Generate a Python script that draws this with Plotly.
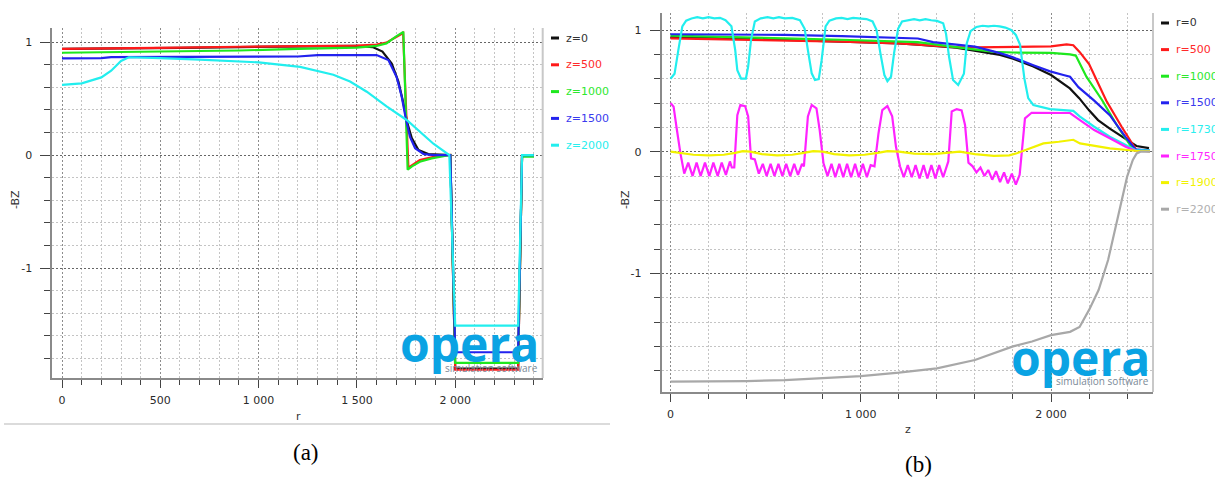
import plotly.graph_objects as go

# ---------------- Panel (a): -BZ vs r ----------------
A_NAMES = ["z=0", "z=500", "z=1000", "z=1500", "z=2000"]
A_COLORS = ["#111111", "#ff1a1a", "#1ee81e", "#2222ee", "#22eeee"]
A_TEXT_COLORS = ["#333333", "#ff2a2a", "#2ee82e", "#3a3aee", "#2aeeee"]

R_Z0 = [0, 300, 600, 900, 1200, 1500, 1580, 1630, 1677, 1711, 1736, 1757, 1779, 1813, 1863, 1930, 1975, 2000, 2320, 2340, 2400]
B_Z0 = [0.94, 0.942, 0.948, 0.955, 0.96, 0.965, 0.955, 0.915, 0.81, 0.65, 0.46, 0.28, 0.15, 0.044, 0.008, 0.0, 0.0, -1.89, -1.89, 0.0, 0.0]

R_Z500 = [0, 300, 600, 900, 1200, 1500, 1600, 1650, 1700, 1735, 1762, 1772, 1820, 1890, 1975, 2000, 2320, 2340, 2400]
B_Z500 = [0.94, 0.942, 0.95, 0.958, 0.963, 0.968, 0.978, 0.995, 1.045, 1.08, -0.12, -0.10, -0.044, -0.015, 0.0, -1.90, -1.90, 0.0, 0.0]

R_Z1000 = [0, 300, 600, 900, 1200, 1500, 1600, 1650, 1700, 1736, 1758, 1780, 1820, 1880, 1940, 1975, 2000, 2320, 2340, 2400]
B_Z1000 = [0.905, 0.91, 0.915, 0.925, 0.94, 0.95, 0.965, 0.988, 1.05, 1.09, -0.13, -0.10, -0.06, -0.03, -0.01, 0.0, -1.84, -1.84, -0.015, -0.015]

R_Z1500 = [0, 200, 250, 1000, 1200, 1300, 1600, 1660, 1702, 1728, 1750, 1770, 1796, 1838, 1889, 1975, 2000, 2320, 2340, 2400]
B_Z1500 = [0.856, 0.858, 0.866, 0.868, 0.872, 0.884, 0.885, 0.84, 0.69, 0.516, 0.31, 0.16, 0.06, 0.009, 0.0, 0.0, -1.745, -1.745, 0.0, 0.0]

R_Z2000 = [0, 100, 200, 250, 300, 340, 500, 700, 1000, 1211, 1380, 1465, 1550, 1651, 1753, 1800, 1889, 1970, 2000, 2320, 2340, 2400]
B_Z2000 = [0.62, 0.634, 0.687, 0.746, 0.832, 0.865, 0.857, 0.845, 0.82, 0.78, 0.71, 0.65, 0.56, 0.43, 0.31, 0.24, 0.10, 0.0, -1.51, -1.51, 0.0, 0.0]

A_R = [R_Z0, R_Z500, R_Z1000, R_Z1500, R_Z2000]
A_B = [B_Z0, B_Z500, B_Z1000, B_Z1500, B_Z2000]

A_XTICKS = [0, 500, 1000, 1500, 2000]
A_XTICKLABELS = ["0", "500", "1 000", "1 500", "2 000"]

# ---------------- Panel (b): -BZ vs z ----------------
B_NAMES = ["r=0", "r=500", "r=1000", "r=1500", "r=1730", "r=1750", "r=1900", "r=2200"]
B_COLORS = ["#111111", "#ff1a1a", "#1ee81e", "#2222ee", "#22eeee", "#ff22ff", "#f2f200", "#a8a8a8"]
B_TEXT_COLORS = ["#333333", "#ff2a2a", "#2ee82e", "#3a3aee", "#2aeeee", "#ff2aff", "#f2f200", "#b0b0b0"]

Z_R0 = [0, 300, 600, 900, 1200, 1300, 1500, 1732, 1800, 1907, 2000, 2099, 2148, 2200, 2247, 2309, 2400, 2449, 2515]
B_R0 = [0.943, 0.935, 0.918, 0.905, 0.89, 0.88, 0.855, 0.795, 0.765, 0.70, 0.63, 0.52, 0.44, 0.34, 0.26, 0.19, 0.096, 0.047, 0.03]

Z_R500 = [0, 300, 600, 900, 1200, 1300, 1500, 1600, 1800, 2000, 2082, 2117, 2150, 2200, 2290, 2371, 2450, 2520]
B_R500 = [0.932, 0.925, 0.915, 0.905, 0.89, 0.88, 0.86, 0.858, 0.862, 0.865, 0.882, 0.875, 0.82, 0.72, 0.42, 0.205, 0.01, 0.005]

Z_R1000 = [0, 300, 600, 900, 1200, 1300, 1500, 1700, 1800, 1907, 2000, 2100, 2130, 2186, 2268, 2351, 2433, 2520]
B_R1000 = [0.953, 0.945, 0.932, 0.92, 0.905, 0.9, 0.86, 0.82, 0.815, 0.814, 0.812, 0.80, 0.79, 0.616, 0.425, 0.205, 0.014, 0.005]

Z_R1500 = [0, 300, 600, 900, 1200, 1300, 1380, 1500, 1600, 1732, 1800, 1907, 1995, 2065, 2100, 2144, 2227, 2309, 2392, 2443, 2520]
B_R1500 = [0.965, 0.963, 0.96, 0.95, 0.935, 0.93, 0.90, 0.877, 0.863, 0.81, 0.775, 0.71, 0.66, 0.63, 0.616, 0.53, 0.42, 0.30, 0.12, 0.02, 0.01]

Z_R1730 = [0, 21, 41, 62, 82, 110, 140, 170, 200, 230, 260, 289, 320, 340, 351, 371, 396, 408, 423, 443,
           474, 510, 540, 570, 600, 640, 680, 705, 722, 742, 759, 779, 794, 815, 835, 870, 900, 930, 960,
           1000, 1030, 1062, 1083, 1103, 1124, 1140, 1159, 1175, 1196, 1217, 1250, 1280, 1310, 1340, 1370,
           1400, 1433, 1448, 1464, 1485, 1512, 1542, 1557, 1577, 1608, 1640, 1670, 1700, 1730, 1760, 1790,
           1815, 1837, 1860, 1880, 1907, 1995, 2082, 2117, 2152, 2227, 2309, 2392, 2443, 2520]
B_R1730 = [0.60, 0.64, 0.835, 1.03, 1.077, 1.095, 1.105, 1.095, 1.105, 1.095, 1.10, 1.08, 1.03, 0.835, 0.67, 0.60, 0.60, 0.70, 0.918, 1.07,
           1.096, 1.105, 1.095, 1.105, 1.095, 1.10, 1.08, 1.01, 0.835, 0.644, 0.589, 0.597, 0.75, 1.03, 1.077, 1.095, 1.10, 1.09, 1.10,
           1.095, 1.09, 1.07, 1.0, 0.81, 0.63, 0.58, 0.616, 0.81, 1.01, 1.07, 1.08, 1.09, 1.08, 1.09, 1.08,
           1.075, 1.055, 0.97, 0.78, 0.589, 0.548, 0.64, 0.89, 0.99, 1.025, 1.035, 1.03, 1.035, 1.03, 1.02, 1.0,
           0.96, 0.88, 0.60, 0.44, 0.384, 0.35, 0.343, 0.335, 0.288, 0.205, 0.123, 0.055, 0.014, 0.01]

Z_R1750 = [0, 16, 31, 52, 72, 93, 116, 137, 158, 181, 204, 225, 248, 269, 291, 312, 322, 335, 351, 367, 392, 408, 423, 443,
           464, 485, 505, 526, 546, 567, 588, 608, 629, 650, 670, 691, 701, 722, 742, 767, 784, 804,
           825, 846, 866, 887, 908, 928, 949, 970, 990, 1011, 1032, 1052, 1072, 1093, 1113, 1140, 1165, 1185, 1206,
           1226, 1247, 1268, 1288, 1309, 1330, 1350, 1371, 1392, 1412, 1433, 1460, 1478, 1504, 1530, 1548, 1566, 1588,
           1608, 1629, 1650, 1670, 1691, 1711, 1732, 1753, 1773, 1794, 1815, 1835, 1863, 1898, 2100, 2152, 2227, 2309, 2392, 2443, 2520]
B_R1750 = [0.40, 0.37, 0.205, -0.014, -0.18, -0.09, -0.20, -0.09, -0.20, -0.09, -0.20, -0.09, -0.20, -0.09, -0.19, -0.08, -0.13, -0.13, 0.30, 0.384, 0.375, 0.29, -0.055, -0.063,
           -0.18, -0.10, -0.20, -0.10, -0.20, -0.10, -0.20, -0.10, -0.20, -0.10, -0.19, -0.10, -0.12, 0.29, 0.384, 0.356, 0.178, -0.096,
           -0.20, -0.10, -0.21, -0.10, -0.21, -0.10, -0.21, -0.10, -0.21, -0.10, -0.21, -0.11, -0.12, 0.15, 0.342, 0.375, 0.29, 0.04, -0.12,
           -0.21, -0.11, -0.21, -0.11, -0.22, -0.11, -0.22, -0.11, -0.22, -0.11, -0.21, -0.08, 0.33, 0.35, 0.34, 0.22, -0.09, -0.12,
           -0.17, -0.13, -0.20, -0.15, -0.23, -0.16, -0.25, -0.17, -0.26, -0.18, -0.27, -0.19, 0.274, 0.32, 0.318, 0.26, 0.178, 0.11, 0.041, 0.008, 0.005]

Z_R1900 = [0, 60, 120, 200, 280, 340, 380, 420, 480, 560, 640, 700, 750, 800, 860, 940, 1020, 1090, 1140, 1200, 1280,
           1380, 1460, 1520, 1600, 1700, 1780, 1820, 1866, 1907, 1960, 2041, 2093, 2117, 2152, 2227, 2309, 2443, 2520]
B_R1900 = [0.0, -0.01, -0.025, -0.03, -0.025, -0.01, 0.005, 0.0, -0.02, -0.03, -0.025, -0.01, 0.005, 0.0, -0.02, -0.03, -0.025, -0.01, 0.005, 0.0, -0.015,
           -0.02, -0.01, 0.0, -0.02, -0.035, -0.03, -0.013, 0.014, 0.04, 0.068, 0.082, 0.095, 0.098, 0.068, 0.047, 0.027, 0.008, 0.005]

Z_R2200 = [0, 200, 400, 600, 800, 1000, 1200, 1400, 1600, 1800, 1900, 2000, 2100, 2150, 2200, 2250, 2300, 2350, 2400, 2430, 2450, 2470, 2520]
B_R2200 = [-1.89, -1.89, -1.885, -1.877, -1.863, -1.844, -1.816, -1.78, -1.712, -1.60, -1.56, -1.507, -1.48, -1.44, -1.30, -1.137, -0.89, -0.56, -0.205, -0.068, -0.014, 0.0, 0.0]

B_Z = [Z_R0, Z_R500, Z_R1000, Z_R1500, Z_R1730, Z_R1750, Z_R1900, Z_R2200]
B_B = [B_R0, B_R500, B_R1000, B_R1500, B_R1730, B_R1750, B_R1900, B_R2200]

B_XTICKS = [0, 1000, 2000]
B_XTICKLABELS = ["0", "1 000", "2 000"]

Y_TICKS = [-1, 0, 1]
Y_TICKLABELS = ["-1", "0", "1"]

# ---------------- layout helpers ----------------
W, H = 1215, 479
def px(x):
    return x / W
def py(y):
    return 1 - y / H

TICKFONT = dict(family="DejaVu Sans", size=11, color="#2a2a2a")

fig = go.Figure()
for xs, ys, c in zip(A_R, A_B, A_COLORS):
    fig.add_trace(go.Scatter(x=xs, y=ys, mode="lines", line=dict(color=c, width=2.2),
                             xaxis="x", yaxis="y", showlegend=False, hoverinfo="skip"))
for xs, ys, c in zip(B_Z, B_B, B_COLORS):
    fig.add_trace(go.Scatter(x=xs, y=ys, mode="lines", line=dict(color=c, width=2.2),
                             xaxis="x2", yaxis="y2", showlegend=False, hoverinfo="skip"))

def xaxis_cfg(domain, rng, tickvals, ticktext, minor_dtick, anchor):
    return dict(domain=domain, range=rng, anchor=anchor, tickmode="array",
                tickvals=tickvals, ticktext=ticktext, ticks="outside", ticklen=8, tickwidth=1,
                tickcolor="#444444", showline=True, linecolor="#8a8a8a", linewidth=2,
                showgrid=True, gridcolor="#8c8c8c", griddash="2px,2px", gridwidth=1,
                zeroline=False, tickfont=TICKFONT, ticklabelstandoff=3,
                minor=dict(tickmode="linear", tick0=0, dtick=minor_dtick, ticks="outside", ticklen=5,
                           tickcolor="#444444", showgrid=True, gridcolor="#c4c4c4",
                           griddash="2px,2px", gridwidth=1))

def yaxis_cfg(domain, rng, anchor):
    return dict(domain=domain, range=rng, anchor=anchor, tickmode="array",
                tickvals=Y_TICKS, ticktext=Y_TICKLABELS, ticks="outside", ticklen=10, tickwidth=1,
                tickcolor="#444444", showline=True, linecolor="#8a8a8a", linewidth=2,
                showgrid=True, gridcolor="#666666", griddash="2px,2px", gridwidth=1,
                zeroline=False, tickfont=TICKFONT, ticklabelstandoff=6,
                minor=dict(tickmode="linear", tick0=0, dtick=0.2, ticks="outside", ticklen=6,
                           tickcolor="#444444", showgrid=True, gridcolor="#c4c4c4",
                           griddash="2px,2px", gridwidth=1))

fig.update_layout(
    width=W, height=H, margin=dict(l=0, r=0, t=0, b=0),
    paper_bgcolor="white", plot_bgcolor="white", showlegend=False,
    xaxis=xaxis_cfg([px(52.4), px(542.7)], [-49, 2445], A_XTICKS, A_XTICKLABELS, 100, "y"),
    yaxis=yaxis_cfg([py(378), py(28)], [-1.973, 1.124], "x"),
    xaxis2=xaxis_cfg([px(661.6), px(1153)], [-47, 2536], B_XTICKS, B_XTICKLABELS, 200, "y2"),
    yaxis2=yaxis_cfg([py(392), py(13)], [-1.9745, 1.1397], "x2"),
)

shapes = []
annotations = []
# right borders of the two plot frames
for xr, yr in (("x domain", "y domain"), ("x2 domain", "y2 domain")):
    shapes.append(dict(type="line", xref=xr, yref=yr, x0=1, x1=1, y0=0, y1=1,
                       line=dict(color="#c8c8c8", width=2)))
# separator line under panel (a)
shapes.append(dict(type="line", xref="paper", yref="paper", x0=px(4), x1=px(610), y0=py(424), y1=py(424),
                   line=dict(color="#cfcfcf", width=1.5)))

# legends
def add_legend(names, colors, tcolors, x_dash0, x_text, y0, dy):
    for i, (n, c, tc) in enumerate(zip(names, colors, tcolors)):
        yy = y0 + i * dy
        shapes.append(dict(type="line", xref="paper", yref="paper", x0=px(x_dash0), x1=px(x_dash0 + 8),
                           y0=py(yy), y1=py(yy), line=dict(color=c, width=3)))
        annotations.append(dict(xref="paper", yref="paper", x=px(x_text), y=py(yy), text=n,
                                showarrow=False, xanchor="left", yanchor="middle",
                                font=dict(family="DejaVu Sans", size=11, color=tc)))

add_legend(A_NAMES, A_COLORS, A_TEXT_COLORS, 551, 564, 38, 26.8)
add_legend(B_NAMES, B_COLORS, B_TEXT_COLORS, 1161, 1174, 23, 26.6)

# axis titles
def ann(x, y, text, size=11, color="#333333", family="DejaVu Sans", angle=0, xanchor="center", yanchor="middle"):
    annotations.append(dict(xref="paper", yref="paper", x=px(x), y=py(y), text=text, showarrow=False,
                            xanchor=xanchor, yanchor=yanchor, textangle=angle,
                            font=dict(family=family, size=size, color=color)))

ann(15, 200, "-BZ", angle=-90)
ann(625, 200, "-BZ", angle=-90)
ann(298, 416, "r")
ann(908, 429, "z")
ann(306, 452, "(a)", size=23, color="#000000", family="Liberation Serif")
ann(918, 464, "(b)", size=23, color="#000000", family="Liberation Serif")

# opera logos
LOGO_BLUE = "#0aa3e3"
ann(541, 343, "<b>opera</b>", size=48, color=LOGO_BLUE, family="Open Sans", xanchor="right")
ann(540, 368, "simulation software", size=10, color="#7b8a97", family="Open Sans", xanchor="right")
ann(1152, 357, "<b>opera</b>", size=48, color=LOGO_BLUE, family="Open Sans", xanchor="right")
ann(1151, 381, "simulation software", size=10, color="#7b8a97", family="Open Sans", xanchor="right")

fig.update_layout(shapes=shapes, annotations=annotations)
fig.write_html("out.html", config={"displayModeBar": False},
               post_script="document.body.style.margin='0px';document.body.style.padding='0px';")
